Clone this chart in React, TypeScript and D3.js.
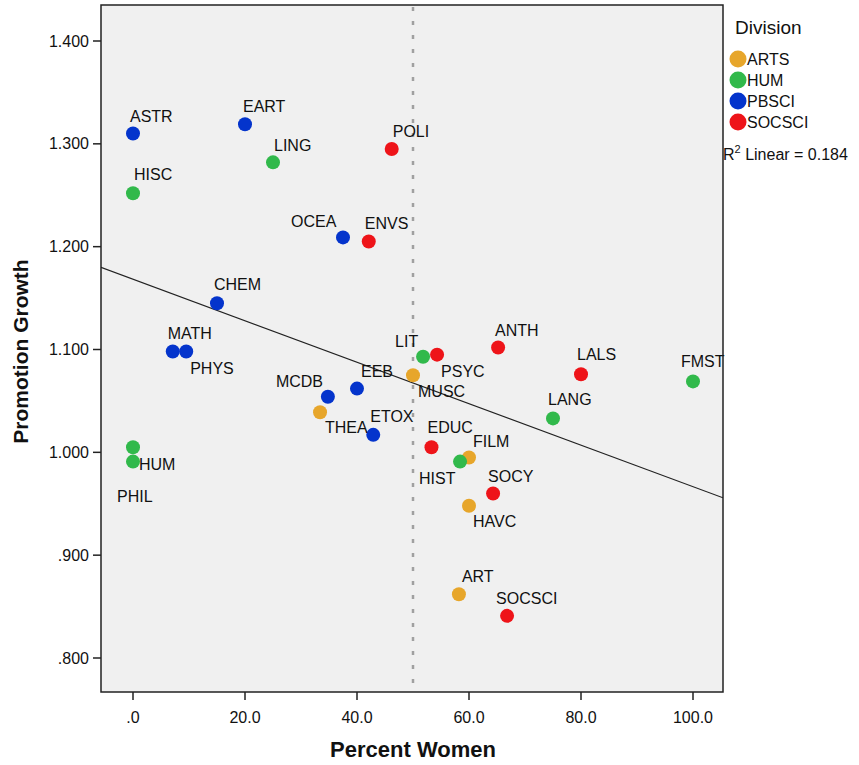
import React from 'react';
import * as d3 from 'd3';

// departments
const names = ['ASTR', 'EART', 'LING', 'POLI', 'HISC', 'OCEA', 'ENVS', 'CHEM', 'MATH', 'PHYS',
  'LIT', 'PSYC', 'ANTH', 'MUSC', 'EEB', 'MCDB', 'THEA', 'ETOX', 'LANG', 'EDUC',
  'FILM', 'HIST', 'SOCY', 'HAVC', 'LALS', 'FMST', 'ART', 'SOCSCI', 'PHIL', 'HUM'];
const divisions = ['PBSCI', 'PBSCI', 'HUM', 'SOCSCI', 'HUM', 'PBSCI', 'SOCSCI', 'PBSCI', 'PBSCI', 'PBSCI',
  'HUM', 'SOCSCI', 'SOCSCI', 'ARTS', 'PBSCI', 'PBSCI', 'ARTS', 'PBSCI', 'HUM', 'SOCSCI',
  'ARTS', 'HUM', 'SOCSCI', 'ARTS', 'SOCSCI', 'HUM', 'ARTS', 'SOCSCI', 'HUM', 'HUM'];
const percentWomen = [0, 20, 25, 46.2, 0, 37.5, 42.1, 15, 7.1, 9.5,
  51.8, 54.3, 65.2, 50, 40, 34.8, 33.4, 42.9, 75, 53.3,
  60, 58.4, 64.3, 60, 80, 100, 58.2, 66.8, 0, 0];
const promotionGrowth = [1.310, 1.319, 1.282, 1.295, 1.252, 1.209, 1.205, 1.145, 1.098, 1.098,
  1.093, 1.095, 1.102, 1.075, 1.062, 1.054, 1.039, 1.017, 1.033, 1.005,
  0.995, 0.991, 0.960, 0.948, 1.076, 1.069, 0.862, 0.841, 1.005, 0.991];

const divisionNames = ['ARTS', 'HUM', 'PBSCI', 'SOCSCI'];
const divisionColors = ['#E7A62B', '#31B94B', '#0434CC', '#EE1419'];
const xTicks = [0, 20, 40, 60, 80, 100];
const yTicks = [0.8, 0.9, 1.0, 1.1, 1.2, 1.3, 1.4];
const rSquared = 0.184;

// label offsets (px, from point centre to text start/baseline)
const labelOffsets: Record<string, [number, number]> = {
  ASTR: [-3, -12], EART: [-2, -12], LING: [1, -11], POLI: [1, -12], HISC: [1, -13],
  OCEA: [-52, -10], ENVS: [-4, -13], CHEM: [-3, -13], MATH: [-5, -13], PHYS: [4, 22],
  LIT: [-28, -10], PSYC: [4, 22], ANTH: [-3, -11], MUSC: [5, 22], EEB: [4, -12],
  MCDB: [-52, -10], THEA: [5, 21], ETOX: [-3, -13], LANG: [-5, -13], EDUC: [-4, -14],
  FILM: [4, -10], HIST: [-41, 22], SOCY: [-5, -11], HAVC: [4, 21], LALS: [-4, -14],
  FMST: [-12, -14], ART: [3, -12], SOCSCI: [-11, -12], PHIL: [-16, 55], HUM: [6, 8],
};

const W = 859;
const H = 765;
const plot = { left: 101, right: 723, top: 5, bottom: 692 };
const font = '"Liberation Sans", Arial, sans-serif';

export default function App() {
  const x = d3.scaleLinear().domain([0, 100]).range([133, 693]);
  const y = d3.scaleLinear().domain([0.8, 1.4]).range([658, 41]);
  const xMin = x.invert(plot.left);
  const xMax = x.invert(plot.right);

  const color = d3.scaleOrdinal<string, string>().domain(divisionNames).range(divisionColors);

  // least squares fit line
  const mx = d3.mean(percentWomen)!;
  const my = d3.mean(promotionGrowth)!;
  const sxy = d3.sum(percentWomen, (v, i) => (v - mx) * (promotionGrowth[i] - my));
  const sxx = d3.sum(percentWomen, (v) => (v - mx) ** 2);
  const slope = sxy / sxx;
  const intercept = my - slope * mx;
  const fit = d3.line<number>().x((v) => x(v)).y((v) => y(intercept + slope * v));

  const yFmt = (v: number) => d3.format('.3f')(v).replace(/^0/, '');
  const xFmt = (v: number) => d3.format('.1f')(v).replace(/^0/, '');

  return (
    <svg width={W} height={H} style={{ position: 'absolute', left: 0, top: 0, background: '#fff' }} fontFamily={font}>
      <defs>
        <clipPath id="plotClip">
          <rect x={plot.left} y={plot.top} width={plot.right - plot.left} height={plot.bottom - plot.top} />
        </clipPath>
      </defs>
      <rect x={plot.left} y={plot.top} width={plot.right - plot.left} height={plot.bottom - plot.top} fill="#F0F0F0" />

      <line x1={x(50)} x2={x(50)} y1={plot.top + 2} y2={plot.bottom} stroke="#a0a0a0" strokeWidth={2.5} strokeDasharray="4,10" />
      <path d={fit([xMin, xMax]) || ''} stroke="#222" strokeWidth={1.2} fill="none" clipPath="url(#plotClip)" />

      {names.map((n, i) => (
        <circle key={n} cx={x(percentWomen[i])} cy={y(promotionGrowth[i])} r={7} fill={color(divisions[i])} />
      ))}
      {names.map((n, i) => (
        <text key={n} x={x(percentWomen[i]) + labelOffsets[n][0]} y={y(promotionGrowth[i]) + labelOffsets[n][1]} fontSize={16} fill="#111">
          {n}
        </text>
      ))}

      <rect x={plot.left} y={plot.top} width={plot.right - plot.left} height={plot.bottom - plot.top} fill="none" stroke="#222" strokeWidth={1.5} />

      {yTicks.map((t) => (
        <g key={t}>
          <line x1={plot.left - 8} x2={plot.left} y1={y(t)} y2={y(t)} stroke="#222" strokeWidth={1.5} />
          <text x={plot.left - 12} y={y(t)} dy="0.35em" textAnchor="end" fontSize={16} fill="#111">{yFmt(t)}</text>
        </g>
      ))}
      {xTicks.map((t) => (
        <g key={t}>
          <line x1={x(t)} x2={x(t)} y1={plot.bottom} y2={plot.bottom + 8} stroke="#222" strokeWidth={1.5} />
          <text x={x(t)} y={plot.bottom + 25} dy="0.35em" textAnchor="middle" fontSize={16} fill="#111">{xFmt(t)}</text>
        </g>
      ))}

      <text x={x(50)} y={757} textAnchor="middle" fontSize={22} fontWeight="bold" fill="#111">Percent Women</text>
      <text transform={`translate(28, ${(plot.top + plot.bottom) / 2 + 3}) rotate(-90)`} textAnchor="middle" fontSize={21} fontWeight="bold" fill="#111">Promotion Growth</text>

      <text x={735} y={34} fontSize={19} fill="#111">Division</text>
      {divisionNames.map((d, i) => (
        <g key={d}>
          <circle cx={738} cy={59 + i * 21} r={8.5} fill={color(d)} />
          <text x={747} y={59 + i * 21} dy="0.35em" fontSize={16} fill="#111">{d}</text>
        </g>
      ))}
      <text x={723} y={160} fontSize={16} fill="#111">
        R<tspan dy={-7} fontSize={11}>2</tspan><tspan dy={7}> Linear = {rSquared}</tspan>
      </text>
    </svg>
  );
}
